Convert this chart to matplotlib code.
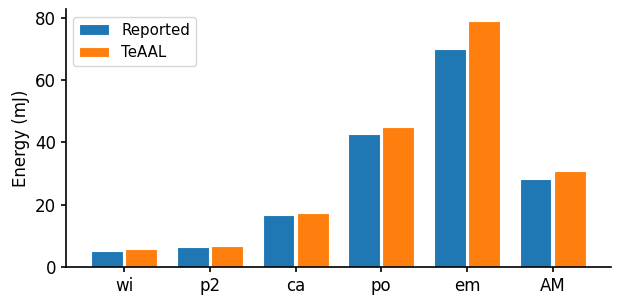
import numpy as np
import matplotlib.pyplot as plt

categories = ['wi', 'p2', 'ca', 'po', 'em', 'AM']
reported = [5.1, 6.3, 16.6, 42.7, 69.8, 28.3]
teaal = [5.6, 6.8, 17.2, 45.0, 78.8, 30.9]

x = np.arange(len(categories))
step = 0.4
w = 0.37

fig, ax = plt.subplots(figsize=(6.22, 3.05), dpi=100)
ax.bar(x - step / 2, reported, w, color='#1f77b4', edgecolor='white', linewidth=0.8, label='Reported')
ax.bar(x + step / 2, teaal, w, color='#ff7f0e', edgecolor='white', linewidth=0.8, label='TeAAL')
ax.set_xticks(x)
ax.set_xticklabels(categories)
ax.set_xlim(-0.68, 5.68)
ax.set_ylabel('Energy (mJ)', fontsize=12)
ax.tick_params(labelsize=12, width=1.2)
ax.spines['top'].set_visible(False)
ax.spines['right'].set_visible(False)
ax.spines['left'].set_linewidth(1.2)
ax.spines['bottom'].set_linewidth(1.2)
ax.legend(loc='upper left', fontsize=10.8)
fig.subplots_adjust(left=0.106, right=0.982, top=0.97, bottom=0.125)
plt.savefig('out.png')
